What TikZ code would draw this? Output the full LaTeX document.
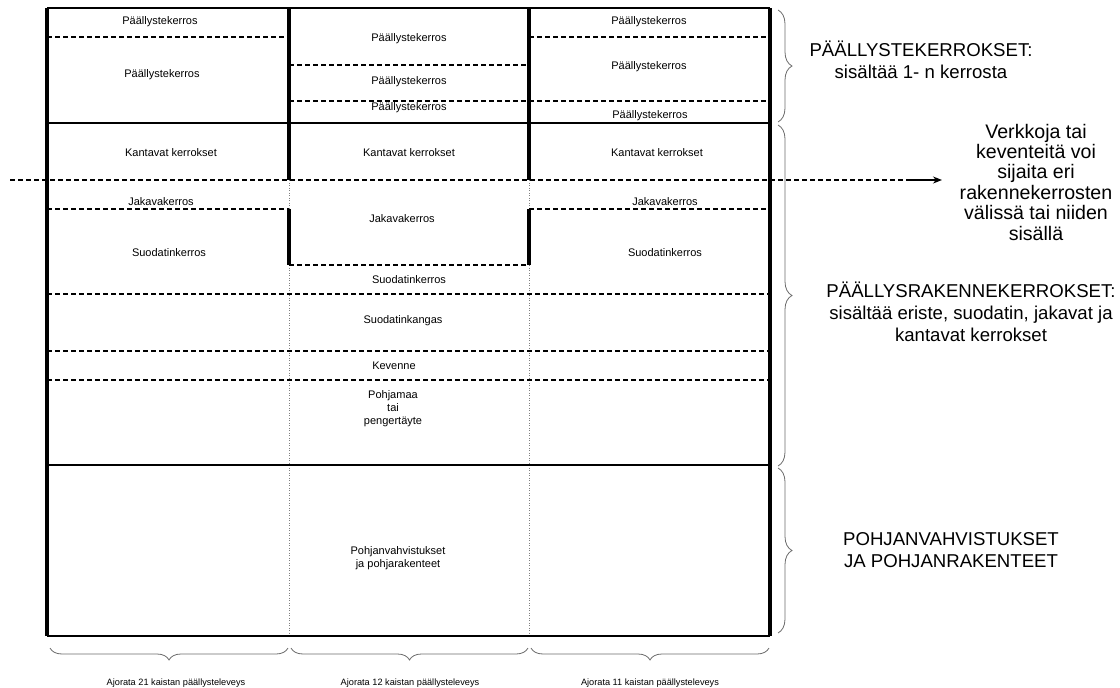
\documentclass[tikz,border=0pt]{standalone}
\usepackage{fontspec}
\setmainfont{Liberation Sans}
\usetikzlibrary{decorations.pathreplacing,arrows.meta}
\begin{document}
\begin{tikzpicture}[x=1pt,y=-1pt,
  thickline/.style={line width=3.5pt},
  solidline/.style={line width=1.3pt},
  dashline/.style={line width=1.2pt,dash pattern=on 5pt off 3pt},
  dotline/.style={line width=0.8pt,gray,dash pattern=on 1pt off 1.5pt},
  lbl/.style={font=\fontsize{11}{13}\selectfont,inner sep=0pt,align=center},
  big/.style={font=\fontsize{18.6}{22}\selectfont,align=center,inner sep=0pt},
  foot/.style={font=\fontsize{9.2}{10}\selectfont,inner sep=0pt},
  brc/.style={decorate,decoration={brace,amplitude=14pt},draw=gray!85!black,line width=0.8pt}
]
\useasboundingbox (0,0) rectangle (1120,688);
% dotted column dividers
\draw[dotline] (289,180) -- (289,209);
\draw[dotline] (289,265) -- (289,636);
\draw[dotline] (529,180) -- (529,209);
\draw[dotline] (529,265) -- (529,636);
% dashed layer borders
\draw[dashline] (47,37) -- (289,37);
\draw[dashline] (289,65) -- (529,65);
\draw[dashline] (289,101) -- (529,101);
\draw[dashline] (529,37) -- (770,37);
\draw[dashline] (529,101) -- (770,101);
\draw[dashline] (47,209) -- (289,209);
\draw[dashline] (529,209) -- (770,209);
\draw[dashline] (289,265) -- (529,265);
\draw[dashline] (47,294) -- (770,294);
\draw[dashline] (47,351) -- (770,351);
\draw[dashline] (47,380) -- (770,380);
% solid horizontal lines
\draw[solidline] (47,8) -- (770,8);
\draw[solidline] (47,123) -- (770,123);
\draw[solidline] (47,465) -- (770,465);
\draw[solidline] (47,636) -- (770,636);
% thick verticals
\draw[thickline] (47,8) -- (47,636);
\draw[thickline] (770,8) -- (770,636);
\draw[thickline] (289,8) -- (289,180);
\draw[thickline] (289,209) -- (289,265);
\draw[thickline] (529,8) -- (529,180);
\draw[thickline] (529,209) -- (529,265);
% column 1 labels
\node[lbl] (a1) at (160,22) {Päällystekerros};
\node[lbl] (a2) at (162,74.5) {Päällystekerros};
\node[lbl] (a3) at (171,152.5) {Kantavat kerrokset};
\node[lbl] (a4) at (161,202) {Jakavakerros};
\node[lbl] (a5) at (169,252.5) {Suodatinkerros};
% column 2 labels
\node[lbl] (b1) at (409,38.5) {Päällystekerros};
\node[lbl] (b2) at (409,81.5) {Päällystekerros};
\node[lbl] (b3) at (409,108) {Päällystekerros};
\node[lbl] (b4) at (409,152.5) {Kantavat kerrokset};
\node[lbl] (b5) at (402,218.5) {Jakavakerros};
\node[lbl] (b6) at (409,280) {Suodatinkerros};
\node[lbl] (b7) at (403,320.5) {Suodatinkangas};
\node[lbl] (b8) at (394,366) {Kevenne};
\node[lbl] (b9) at (393,409) {Pohjamaa\\tai\\pengertäyte};
\node[lbl] (b10) at (398,558) {Pohjanvahvistukset\\ja pohjarakenteet};
% column 3 labels
\node[lbl] (c1) at (649,22) {Päällystekerros};
\node[lbl] (c2) at (649,66.5) {Päällystekerros};
\node[lbl] (c3) at (650,116) {Päällystekerros};
\node[lbl] (c4) at (657,152.5) {Kantavat kerrokset};
\node[lbl] (c5) at (665,202) {Jakavakerros};
\node[lbl] (c6) at (665,252.5) {Suodatinkerros};
% right braces
\draw[brc] (778,10) -- (778,122);
\draw[brc] (778,125) -- (778,466);
\draw[brc] (778,468) -- (778,633);
% bottom braces
\draw[brc,decoration={amplitude=12pt}] (288,648) -- (50,648);
\draw[brc,decoration={amplitude=12pt}] (528,648) -- (291,648);
\draw[brc,decoration={amplitude=12pt}] (769,648) -- (531,648);
% bottom labels
\node[foot] (f1) at (176,683) {Ajorata 21 kaistan päällysteleveys};
\node[foot] (f2) at (410,683) {Ajorata 12 kaistan päällysteleveys};
\node[foot] (f3) at (650,683) {Ajorata 11 kaistan päällysteleveys};
% right texts
\node[big] (t1) at (921,60) {PÄÄLLYSTEKERROKSET:\\sisältää 1- n kerrosta};
\node[big,font=\fontsize{19.6}{20.4}\selectfont] (t2) at (1036,182) {Verkkoja tai\\keventeitä voi\\sijaita eri\\rakennekerrosten\\välissä tai niiden\\sisällä};
\node[big] (t3) at (971,312) {PÄÄLLYSRAKENNEKERROKSET:\\sisältää eriste, suodatin, jakavat ja\\kantavat kerrokset};
\node[big] (t4) at (951,550) {POHJANVAHVISTUKSET\\JA POHJANRAKENTEET};
% dashed arrow
\coordinate (as) at (10,180);
\coordinate (am) at (907,180);
\draw[dashline] (as) -- (am);
\draw[solidline,-{Stealth[length=9pt,width=7pt]}] (am) -- (942,180);
\end{tikzpicture}
\end{document}
